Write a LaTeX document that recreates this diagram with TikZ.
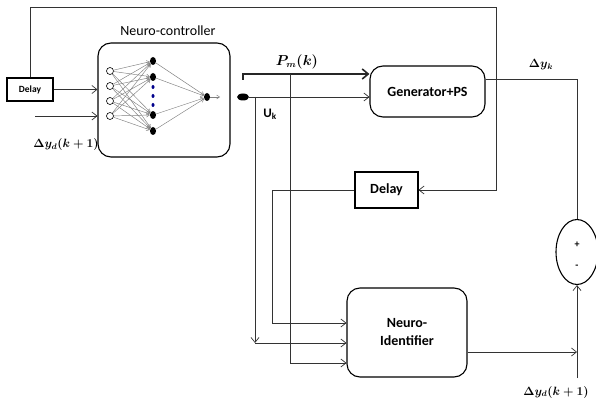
\documentclass[tikz,border=0pt]{standalone}
\usepackage[no-math]{fontspec}
\setmainfont{Carlito}
\usetikzlibrary{arrows.meta,shapes.geometric}
\tikzset{
  box/.style={draw, line width=1.1pt, minimum width=#1, inner sep=0pt},
  rbox/.style={draw, line width=1.1pt, rounded corners=13pt, inner sep=0pt},
  wire/.style={draw, line width=0.7pt, black!80},
  arr/.style={wire, -{Straight Barb[length=5pt,width=8pt]}},
  nnl/.style={draw, gray, line width=0.45pt, -{Straight Barb[length=3pt,width=4pt]}},
  inn/.style={circle, draw, line width=0.6pt, minimum size=7pt, inner sep=0pt, fill=white},
  hid/.style={ellipse, fill=black, minimum width=6pt, minimum height=8pt, inner sep=0pt},
  lbl/.style={font=\bfseries\fontsize{14}{16}\selectfont},
  mlbl/.style={font=\fontsize{12}{14}\selectfont\boldmath},
  bdot/.style={ellipse, fill=blue!55!black, minimum width=3pt, minimum height=4pt, inner sep=0pt},
}
\begin{document}
\begin{tikzpicture}[x=1pt,y=-1pt]
\useasboundingbox[fill=white] (0,0) rectangle (596,403);

% blocks
\node[box=46pt, minimum height=23pt, font=\bfseries\fontsize{9.5}{11}\selectfont] (delayA) at (30,89.5) {Delay};
\node[rbox, minimum width=132pt, minimum height=114pt] (nc) at (164,100) {};
\node[font=\fontsize{14}{16}\selectfont] (nct) at (168,31) {Neuro-controller};
\node[rbox, minimum width=115pt, minimum height=51pt, lbl] (gen) at (427.5,91.5) {Generator+PS};
\node[box=63pt, minimum height=36pt, lbl] (delayB) at (386.5,190) {Delay};
\node[rbox, minimum width=120pt, minimum height=89pt, lbl, align=center] (ni) at (407,332.5) {Neuro-\\[2pt]Identifier};
\node[ellipse, draw, line width=1.1pt, minimum width=42pt, minimum height=65pt, inner sep=0pt] (sum) at (577,252) {};
\node[font=\bfseries\fontsize{10}{11}\selectfont] (plus) at (577,245) {+};
\node[font=\bfseries\fontsize{10}{11}\selectfont] (minus) at (577,267) {-};
\node[ellipse, fill=black, minimum width=12pt, minimum height=7pt, inner sep=0pt] (dot) at (243,97) {};

% neural net
\foreach \i/\y in {1/71,2/86,3/101,4/116} \node[inn] (i\i) at (110,\y) {};
\foreach \j/\y in {1/61,2/77,3/115,4/131} \node[hid] (h\j) at (153,\y) {};
\node[hid] (o) at (207,97) {};
\foreach \i in {1,...,4}{\foreach \j in {1,...,4}{\draw[nnl] (i\i) -- (h\j);}}
\foreach \j in {1,...,4}{\draw[nnl] (h\j) -- (o);}
\coordinate (oe) at (220,97);
\draw[nnl] (o) -- (oe);
\foreach \k/\y in {1/87,2/96,3/105} \node[bdot] (bd\k) at (153,\y) {};

% labels
\node[mlbl] (lyd1) at (66,145) {$\Delta y_d(k+1)$};
\node[mlbl] (lyk) at (541,65) {$\Delta y_k$};
\node[font=\fontsize{13.5}{15}\selectfont\boldmath] (lpm) at (297,62) {$P_m(k)$};
\node[font=\bfseries\fontsize{13}{15}\selectfont] (luk) at (270,114) {U\textsubscript{k}};
\node[mlbl] (lyd2) at (556,392) {$\Delta y_d(k+1)$};

% coordinates
\coordinate (topR) at (496,7);
\coordinate (in2) at (35,116);
\coordinate (pmS) at (243,80);
\coordinate (pmT) at (243,74);
\coordinate (ukT) at (255,97);
\coordinate (ukB) at (255,343);
\coordinate (pmV) at (290,74);
\coordinate (pmB) at (290,363);
\coordinate (dlB) at (272,323);
\coordinate (dyk) at (577,79);
\coordinate (niO) at (577,352);
\coordinate (yd2) at (577,378);

% connectors
\draw[arr] (delayA.north) |- (topR) |- (delayB.east);
\draw[arr] (delayA.east) -- (nc.west |- delayA.east);
\draw[arr] (in2) -- (nc.west |- in2);
\draw[arr] (dot) -- (gen.west |- dot);
\draw[line width=1.6pt, black!85, -{Straight Barb[length=6pt,width=10pt]}] (pmS) -- (pmT) -- (gen.west |- pmT);
\draw[arr] (ukT) -- (ukB);
\draw[arr] (ukB) -- (ni.west |- ukB);
\draw[arr] (pmV) -- (pmB) -- (ni.west |- pmB);
\draw[arr] (delayB.west) -| (dlB) -- (ni.west |- dlB);
\draw[wire] (gen.east |- dyk) -- (dyk) -- (sum.north);
\draw[arr] (ni.east |- niO) -- (niO);
\draw[arr] (yd2) -- (sum.south);
\end{tikzpicture}
\end{document}
